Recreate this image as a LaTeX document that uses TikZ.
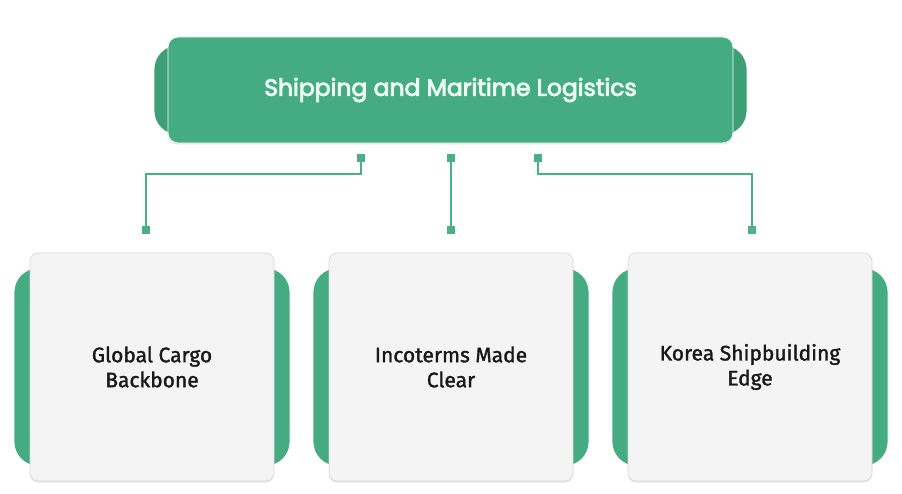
\documentclass[tikz,border=0pt]{standalone}
\usepackage{fontspec}
\setmainfont{Fira Sans}
\newfontfamily\titlefont{Poppins}[FakeBold=3.5]
\newfontfamily\boxfont{Fira Sans}[FakeBold=1.5]
\usetikzlibrary{shadows}
\definecolor{gmain}{HTML}{45AB82}
\definecolor{gtab}{HTML}{3C9F76}
\definecolor{gline}{HTML}{4BB084}
\definecolor{cardbg}{HTML}{F4F4F4}
\definecolor{cardedge}{HTML}{D8D8D8}
\definecolor{titletext}{HTML}{ECFBF3}
\tikzset{
  tabshape/.style={fill=gtab, draw=white, line width=0.8pt, rounded corners=24pt},
  mainbox/.style={fill=gmain, draw=white, line width=0.8pt, rounded corners=10pt,
    drop shadow={shadow xshift=0pt, shadow yshift=-1.5pt, opacity=0.25, fill=gray}},
  cardtab/.style={fill=gmain, draw=white, line width=0.8pt, rounded corners=24pt},
  card/.style={fill=cardbg, draw=cardedge, line width=0.6pt, rounded corners=8pt,
    drop shadow={shadow xshift=0pt, shadow yshift=-1.5pt, opacity=0.2, fill=gray}},
  cardtext/.style={font=\boxfont\fontsize{21}{25}\selectfont, text=black!90, align=center},
  conn/.style={draw=gline, line width=1.8pt},
  dot/.style={fill=gline, minimum size=7.5pt, inner sep=0pt, outer sep=0pt, draw=none, rectangle},
}
\begin{document}
\begin{tikzpicture}[x=1pt, y=-1pt]
\useasboundingbox (0,0) rectangle (902,494);
\fill[white] (0,0) rectangle (902,494);

% top box
\draw[tabshape] (154,45) rectangle (747,135);
\draw[mainbox] (168,37) rectangle (733,143);
\node[font=\titlefont\fontsize{23.5}{26}\selectfont, text=titletext] (title) at (450.5,90) {Shipping and Maritime Logistics};

% cards
\foreach \cx/\name/\txt in {152/c1/{Global Cargo\\Backbone}, 451/c2/{Incoterms Made\\Clear}, 750/c3/{Korea Shipbuilding\\Edge}}{
  \draw[cardtab] (\cx-138,268) rectangle (\cx+138,466);
  \draw[card] (\cx-122,253) rectangle (\cx+122,481);
  \node[cardtext] (\name) at (\cx,367) {\txt};
}

% connector points
\node[dot] (t1) at (361,158) {};
\node[dot] (t2) at (451,158) {};
\node[dot] (t3) at (538,158) {};
\node[dot] (b1) at (146,230) {};
\node[dot] (b2) at (451,230) {};
\node[dot] (b3) at (752,230) {};

\draw[conn] (t1.center) -- (361,174) -- (146,174) -- (b1.center);
\draw[conn] (t2.center) -- (b2.center);
\draw[conn] (t3.center) -- (538,174) -- (752,174) -- (b3.center);
\node[dot] at (t1) {};
\node[dot] at (t2) {};
\node[dot] at (t3) {};
\node[dot] at (b1) {};
\node[dot] at (b2) {};
\node[dot] at (b3) {};
\end{tikzpicture}
\end{document}
